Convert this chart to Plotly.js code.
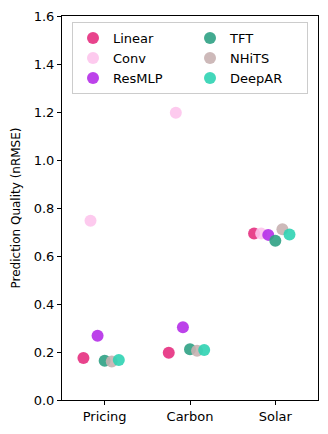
<!DOCTYPE html>
<html>
<head>
<meta charset="utf-8">
<script src="https://cdn.plot.ly/plotly-3.0.1.min.js"></script>
<style>
body{margin:0;padding:0;background:#fff;}
#chart{width:328px;height:434px;}
</style>
</head>
<body>
<div id="chart"></div>
<script>
var datasets = ['Pricing', 'Carbon', 'Solar'];
var models = ['Linear', 'Conv', 'ResMLP', 'TFT', 'NHiTS', 'DeepAR'];
var colors = ['#e62f7f', '#fdc4ec', '#b52ee8', '#2fa184', '#c8b1b1', '#2fd3b3'];

// nRMSE per model, in dataset order (Pricing, Carbon, Solar)
var linear = [0.175, 0.197, 0.694];
var conv = [0.747, 1.197, 0.694];
var resmlp = [0.268, 0.303, 0.688];
var tft = [0.164, 0.211, 0.664];
var nhits = [0.160, 0.205, 0.711];
var deepar = [0.167, 0.208, 0.690];

var values = [linear, conv, resmlp, tft, nhits, deepar];
// legend is filled column by column in the original (3 rows x 2 cols)
var rank = [1, 3, 5, 2, 4, 6];

var step = 0.083;
var data = [];
for (let k = 0; k < models.length; k++) {
    var xs = [];
    for (let i = 0; i < datasets.length; i++) {
        xs.push(i + (k - 3) * step);
    }
    data.push({
        x: xs,
        y: values[k],
        type: 'scatter',
        mode: 'markers',
        name: models[k],
        legendrank: rank[k],
        marker: {size: 12, color: colors[k], opacity: 0.9, line: {width: 0}}
    });
}

var layout = {
    width: 328,
    height: 434,
    margin: {l: 62, r: 10, t: 16, b: 34},
    paper_bgcolor: '#fff',
    plot_bgcolor: '#fff',
    font: {family: 'DejaVu Sans', size: 13, color: '#000'},
    showlegend: true,
    legend: {
        orientation: 'h',
        x: 0.5, xanchor: 'center',
        y: 0.984, yanchor: 'top',
        entrywidth: 72,
        bordercolor: '#cccccc', borderwidth: 1,
        bgcolor: 'rgba(255,255,255,0.8)',
        font: {size: 13},
        tracegroupgap: 0
    },
    xaxis: {
        range: [-0.5, 2.5],
        tickvals: [0, 1, 2],
        ticktext: datasets,
        showgrid: false, zeroline: false,
        showline: true, linecolor: '#000', linewidth: 1, mirror: true,
        ticks: 'outside', ticklen: 4, tickcolor: '#000'
    },
    yaxis: {
        range: [0, 1.6],
        dtick: 0.2, tickformat: '.1f',
        showgrid: false, zeroline: false,
        showline: true, linecolor: '#000', linewidth: 1, mirror: true,
        ticks: 'outside', ticklen: 4, tickcolor: '#000',
        title: {text: 'Prediction Quality (nRMSE)', standoff: 10, font: {size: 12}}
    }
};

Plotly.newPlot('chart', data, layout, {displayModeBar: false, staticPlot: true});
</script>
</body>
</html>
